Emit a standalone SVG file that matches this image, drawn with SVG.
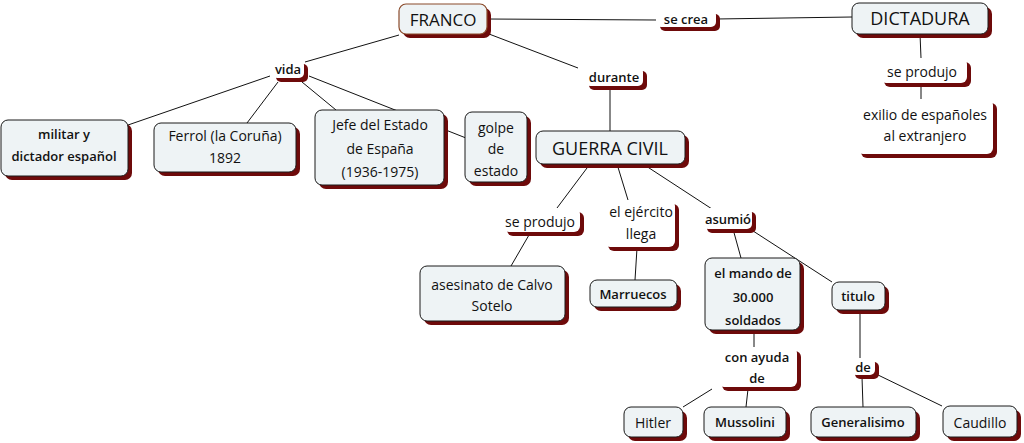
<svg xmlns="http://www.w3.org/2000/svg" width="1024" height="443" viewBox="0 0 1024 443">
<style>
.c{fill:#eef3f5;stroke:#1a1a1a;stroke-width:1}
.f{fill:#eef3f5;stroke:#8a4a2a;stroke-width:1.2}
.l{fill:#ffffff;stroke:none}
.s{fill:#6e0a0a;stroke:none}
.e{stroke:#111;stroke-width:1;fill:none}
text{font-family:"Open Sans","Noto Sans",sans-serif;fill:#111;text-anchor:middle;dominant-baseline:central}
.t{font-size:14px}
.b{font-size:13px;font-weight:600}
.g{font-size:17px}
.h{font-size:18px}
</style>
<rect width="1024" height="443" fill="#ffffff"/>
<g id="connectors">
<line class="e" x1="487" y1="19" x2="656" y2="20"/>
<line class="e" x1="716" y1="19" x2="852" y2="17"/>
<line class="e" x1="920" y1="34" x2="921" y2="58"/>
<line class="e" x1="921" y1="86" x2="921" y2="100"/>
<line class="e" x1="399" y1="35" x2="305" y2="62"/>
<line class="e" x1="270" y1="76" x2="128" y2="125"/>
<line class="e" x1="278" y1="82" x2="247" y2="123"/>
<line class="e" x1="302" y1="82" x2="336" y2="110"/>
<line class="e" x1="309" y1="76" x2="466" y2="138"/>
<line class="e" x1="489" y1="34" x2="578" y2="68"/>
<line class="e" x1="610" y1="86" x2="610" y2="131"/>
<line class="e" x1="590" y1="164" x2="557" y2="208"/>
<line class="e" x1="617" y1="164" x2="628" y2="200"/>
<line class="e" x1="643" y1="164" x2="712" y2="209"/>
<line class="e" x1="529" y1="235" x2="511" y2="266"/>
<line class="e" x1="637" y1="248" x2="635" y2="280"/>
<line class="e" x1="733" y1="229" x2="741" y2="258"/>
<line class="e" x1="750" y1="229" x2="832" y2="282"/>
<line class="e" x1="754" y1="332" x2="754" y2="347"/>
<line class="e" x1="860" y1="310" x2="860" y2="358"/>
<line class="e" x1="712" y1="389" x2="683" y2="407"/>
<line class="e" x1="748" y1="389" x2="746" y2="407"/>
<line class="e" x1="862" y1="377" x2="863" y2="407"/>
<line class="e" x1="876" y1="374" x2="942" y2="406"/>
</g>
<g id="franco"><rect class="s" x="403" y="8" width="88" height="30" rx="7"/><rect class="f" x="399" y="4" width="88" height="30" rx="7"/><text class="g" x="443" y="19">FRANCO</text></g>
<g id="se-crea"><rect class="s" x="660" y="14" width="60" height="17" rx="5"/><rect class="l" x="656" y="10" width="60" height="17" rx="5"/><text class="b" x="686" y="19">se crea</text></g>
<g id="dictadura"><rect class="s" x="856" y="7" width="136" height="31" rx="7"/><rect class="c" x="852" y="3" width="136" height="31" rx="7"/><text class="h" x="920" y="18">DICTADURA</text></g>
<g id="se-produjo-1"><rect class="s" x="884" y="62" width="87" height="25" rx="6"/><rect class="l" x="880" y="58" width="87" height="25" rx="6"/><text class="t" x="922" y="71">se produjo</text></g>
<g id="exilio"><rect class="s" x="861" y="103" width="136" height="55" rx="6"/><rect class="l" x="857" y="99" width="136" height="55" rx="6"/><text class="t" x="925" y="114">exilio de españoles</text><text class="t" x="925" y="135">al extranjero</text></g>
<g id="vida"><rect class="s" x="276" y="64" width="32" height="18" rx="5"/><rect class="l" x="272" y="60" width="32" height="18" rx="5"/><text class="b" x="288" y="69">vida</text></g>
<g id="militar"><rect class="s" x="5" y="124" width="127" height="56" rx="7"/><rect class="c" x="1" y="120" width="127" height="56" rx="7"/><text class="b" x="64" y="134">militar y</text><text class="b" x="64" y="156">dictador español</text></g>
<g id="ferrol"><rect class="s" x="158" y="127" width="142" height="49" rx="7"/><rect class="c" x="154" y="123" width="142" height="49" rx="7"/><text class="t" x="225" y="135">Ferrol (la Coruña)</text><text class="t" x="225" y="157">1892</text></g>
<g id="jefe"><rect class="s" x="319" y="114" width="129" height="75" rx="7"/><rect class="c" x="315" y="110" width="129" height="75" rx="7"/><text class="t" x="380" y="124">Jefe del Estado</text><text class="t" x="380" y="148">de España</text><text class="t" x="380" y="171">(1936-1975)</text></g>
<g id="golpe"><rect class="s" x="469" y="116" width="62" height="70" rx="7"/><rect class="c" x="465" y="112" width="62" height="70" rx="7"/><text class="t" x="496" y="127">golpe</text><text class="t" x="496" y="148">de</text><text class="t" x="496" y="170">estado</text></g>
<g id="durante"><rect class="s" x="589" y="71" width="58" height="19" rx="5"/><rect class="l" x="585" y="67" width="58" height="19" rx="5"/><text class="b" x="614" y="77">durante</text></g>
<g id="guerra"><rect class="s" x="540" y="135" width="149" height="33" rx="7"/><rect class="c" x="536" y="131" width="149" height="33" rx="7"/><text class="h" x="610" y="148">GUERRA CIVIL</text></g>
<g id="se-produjo-2"><rect class="s" x="507" y="212" width="77" height="24" rx="6"/><rect class="l" x="503" y="208" width="77" height="24" rx="6"/><text class="t" x="540" y="221">se produjo</text></g>
<g id="asesinato"><rect class="s" x="424" y="270" width="145" height="55" rx="7"/><rect class="c" x="420" y="266" width="145" height="55" rx="7"/><text class="t" x="492" y="284">asesinato de Calvo</text><text class="t" x="492" y="305">Sotelo</text></g>
<g id="ejercito"><rect class="s" x="608" y="204" width="71" height="47" rx="6"/><rect class="l" x="604" y="200" width="71" height="47" rx="6"/><text class="t" x="641" y="211">el ejército</text><text class="t" x="641" y="233">llega</text></g>
<g id="marruecos"><rect class="s" x="594" y="284" width="87" height="27" rx="7"/><rect class="c" x="590" y="280" width="87" height="27" rx="7"/><text class="b" x="633" y="294">Marruecos</text></g>
<g id="asumio"><rect class="s" x="707" y="212" width="49" height="21" rx="5"/><rect class="l" x="703" y="208" width="49" height="21" rx="5"/><text class="b" x="728" y="219">asumió</text></g>
<g id="mando"><rect class="s" x="709" y="262" width="95" height="72" rx="7"/><rect class="c" x="705" y="258" width="95" height="72" rx="7"/><text class="b" x="753" y="273">el mando de</text><text class="b" x="753" y="297">30.000</text><text class="b" x="753" y="320">soldados</text></g>
<g id="titulo"><rect class="s" x="836" y="286" width="53" height="28" rx="7"/><rect class="c" x="832" y="282" width="53" height="28" rx="7"/><text class="b" x="858" y="296">titulo</text></g>
<g id="de"><rect class="s" x="855" y="362" width="24" height="17" rx="5"/><rect class="l" x="851" y="358" width="24" height="17" rx="5"/><text class="b" x="863" y="367">de</text></g>
<g id="con-ayuda"><rect class="s" x="722" y="351" width="79" height="40" rx="6"/><rect class="l" x="718" y="347" width="79" height="40" rx="6"/><text class="b" x="757" y="357">con ayuda</text><text class="b" x="757" y="378">de</text></g>
<g id="hitler"><rect class="s" x="628" y="411" width="59" height="30" rx="7"/><rect class="c" x="624" y="407" width="59" height="30" rx="7"/><text class="t" x="653" y="422">Hitler</text></g>
<g id="mussolini"><rect class="s" x="708" y="411" width="82" height="30" rx="7"/><rect class="c" x="704" y="407" width="82" height="30" rx="7"/><text class="b" x="745" y="422">Mussolini</text></g>
<g id="generalisimo"><rect class="s" x="815" y="411" width="105" height="30" rx="7"/><rect class="c" x="811" y="407" width="105" height="30" rx="7"/><text class="b" x="863" y="422">Generalisimo</text></g>
<g id="caudillo"><rect class="s" x="947" y="410" width="74" height="31" rx="7"/><rect class="c" x="943" y="406" width="74" height="31" rx="7"/><text class="t" x="980" y="422">Caudillo</text></g>
</svg>
